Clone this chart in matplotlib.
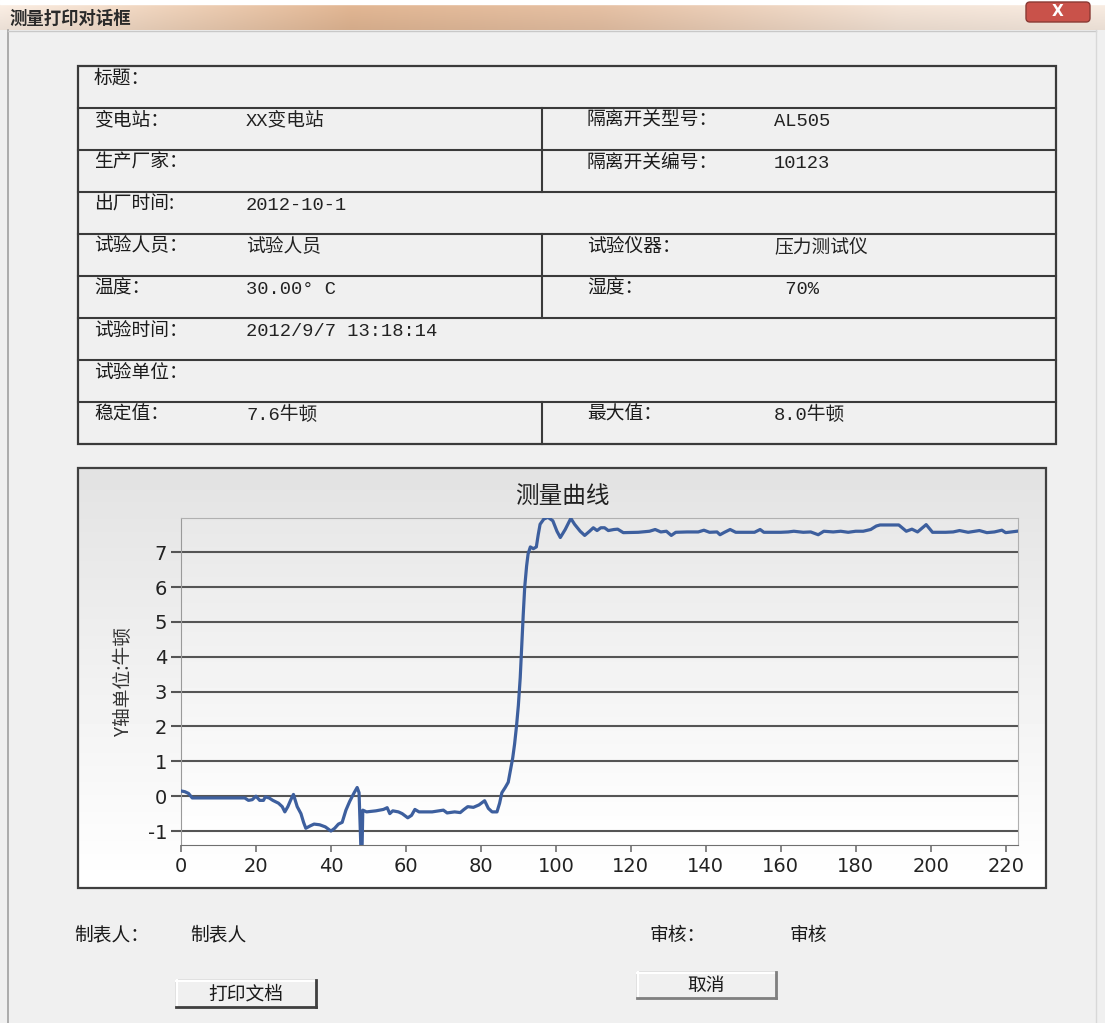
import numpy as np
import matplotlib.pyplot as plt
from matplotlib.patches import Rectangle, FancyBboxPatch

plt.rcParams['font.family'] = ['Noto Sans CJK SC', 'DejaVu Sans']
plt.rcParams['axes.unicode_minus'] = False

# data
curve_x = [0, 1, 2, 3, 5, 10, 15, 17, 18, 19, 20, 21, 22, 22.5, 23.5, 24.5, 26, 27,
           27.7, 28.5, 29.3, 30, 31, 32, 32.7, 33.3, 34.5, 35.5, 37, 38.5, 40, 41,
           42, 43, 44, 45, 46.2, 47, 47.5, 48, 48.3, 48.5, 49.5, 52, 54, 55, 55.7,
           56.5, 58, 59, 60.5, 61.5, 62.4, 63.5, 65, 67, 70, 71, 73, 74.5, 75.5,
           76.5, 78, 79.5, 81, 82, 83, 84.3, 85, 85.6, 86.5, 87.3, 88, 88.5, 89,
           89.5, 90, 90.5, 90.9, 91.3, 91.7, 92.2, 92.6, 93.2, 94, 94.8, 95.3,
           95.8, 96.8, 97.9, 99.2, 100.3, 101.2, 102.5, 104, 105, 106.5, 107.7,
           109, 110, 111, 112, 113, 114, 115.5, 116.5, 118, 122, 125, 126.5, 128,
           129.5, 130.8, 132, 135, 138, 139.5, 141, 143, 143.8, 145, 146.5, 148,
           153, 154.5, 155.5, 160, 162, 163.5, 166, 168, 170, 171.5, 174, 176,
           178, 180, 182, 184, 185.5, 186.5, 191.5, 193.5, 195, 196.5, 198.8,
           200.5, 204, 206, 207.7, 210, 213, 215, 217, 219, 220, 223]
curve_y = [0.15, 0.13, 0.08, -0.05, -0.05, -0.05, -0.05, -0.05, -0.12, -0.1, 0.0,
           -0.12, -0.12, -0.02, -0.05, -0.12, -0.2, -0.3, -0.45, -0.3, -0.1, 0.05,
           -0.3, -0.5, -0.75, -0.92, -0.85, -0.8, -0.82, -0.88, -1.0, -0.92, -0.8,
           -0.75, -0.4, -0.15, 0.1, 0.25, 0.1, -1.5, -1.5, -0.4, -0.45, -0.42,
           -0.38, -0.33, -0.5, -0.42, -0.45, -0.5, -0.62, -0.55, -0.38, -0.45,
           -0.45, -0.45, -0.4, -0.48, -0.45, -0.47, -0.38, -0.3, -0.32, -0.25,
           -0.13, -0.35, -0.45, -0.45, -0.2, 0.1, 0.25, 0.4, 0.8, 1.1, 1.5, 2.0,
           2.6, 3.4, 4.3, 5.2, 6.0, 6.6, 6.95, 7.15, 7.1, 7.15, 7.5, 7.8, 7.95,
           8.0, 7.9, 7.6, 7.42, 7.65, 7.97, 7.8, 7.6, 7.48, 7.6, 7.7, 7.62, 7.7,
           7.7, 7.62, 7.65, 7.66, 7.56, 7.57, 7.6, 7.65, 7.58, 7.6, 7.48, 7.57,
           7.58, 7.58, 7.63, 7.57, 7.58, 7.5, 7.57, 7.65, 7.57, 7.57, 7.65, 7.57,
           7.57, 7.58, 7.6, 7.57, 7.58, 7.5, 7.6, 7.58, 7.6, 7.57, 7.6, 7.6, 7.65,
           7.75, 7.78, 7.78, 7.6, 7.66, 7.58, 7.79, 7.57, 7.57, 7.58, 7.62, 7.57,
           7.62, 7.56, 7.58, 7.63, 7.56, 7.6]

x_ticks = [0, 20, 40, 60, 80, 100, 120, 140, 160, 180, 200, 220]
y_ticks = [-1, 0, 1, 2, 3, 4, 5, 6, 7]

# table content
left_labels = ["标题：", "变电站：", "生产厂家：", "出厂时间:", "试验人员：", "温度：",
               "试验时间：", "试验单位：", "稳定值："]
left_values = ["", "XX变电站", "", "2012-10-1", "试验人员", "30.00° C",
               "2012/9/7 13:18:14", "", "7.6牛顿"]
right_labels = [None, "隔离开关型号：", "隔离开关编号：", None, "试验仪器：", "湿度：",
                None, None, "最大值："]
right_values = [None, "AL505", "10123", None, "压力测试仪", " 70%", None, None, "8.0牛顿"]

W, H = 1105, 1023
fig = plt.figure(figsize=(W / 100, H / 100), dpi=100)
fig.patch.set_facecolor('#f0f0f0')

bg = fig.add_axes([0, 0, 1, 1])
bg.set_xlim(0, W)
bg.set_ylim(H, 0)
bg.axis('off')

mono = ['Liberation Mono', 'Noto Sans CJK SC']
fs = 13.5

# title bar
stops_x = [0, 150, 350, 600, 900, 1105]
stops_c = np.array([[242, 230, 220], [232, 206, 184], [218, 176, 142],
                    [222, 186, 158], [236, 220, 207], [240, 228, 218]]) / 255
cols = np.linspace(0, W, 300)
bar = np.stack([np.interp(cols, stops_x, stops_c[:, k]) for k in range(3)], axis=-1)
shade = np.linspace(1.04, 0.97, 30)[:, None, None]
bar_img = np.clip(bar[None, :, :] * shade, 0, 1)
bg.imshow(bar_img, extent=(0, W, 30, 4), aspect='auto', origin='upper', zorder=0)
bg.add_patch(Rectangle((0, 0), W, 4, color='white', zorder=1))
bg.text(10, 19, "测量打印对话框", fontsize=12.5, fontweight='bold', va='center',
        ha='left', color='#2a2a2a')
bg.add_patch(FancyBboxPatch((1026, 2), 64, 20, boxstyle="round,pad=0,rounding_size=4",
                            fc='#c9524a', ec='#8a3a34', lw=1, zorder=2))
bg.text(1058, 11, "X", fontsize=11, fontweight='bold', color='white',
        ha='center', va='center', family='DejaVu Sans', zorder=3)
bg.plot([8, 8], [30, 1023], color='#a0a0a0', lw=1.2)
bg.plot([8, 1096], [31, 31], color='#c8c8c8', lw=1)
bg.plot([1096, 1096], [30, 1023], color='#d8d8d8', lw=1)

# table grid
tab_l, tab_r, tab_t, row_h, mid = 78, 1056, 66, 42, 542
n_rows = len(left_labels)
line_c = '#3a3a3a'
bg.add_patch(Rectangle((tab_l, tab_t), tab_r - tab_l, row_h * n_rows,
                       fill=False, ec=line_c, lw=1.6))
for i in range(1, n_rows):
    yy = tab_t + i * row_h
    bg.plot([tab_l, tab_r], [yy, yy], color=line_c, lw=1.5)
for i in range(n_rows):
    top = tab_t + i * row_h
    if right_labels[i] is not None:
        bg.plot([mid, mid], [top, top + row_h], color=line_c, lw=1.5)
    bg.text(94, top + 12, left_labels[i], fontsize=fs, va='center', color='#1a1a1a')
    if left_values[i]:
        bg.text(246, top + 13, left_values[i], fontsize=fs, va='center', color='#222222',
                family=mono)
    if right_labels[i] is not None:
        bg.text(587, top + 12, right_labels[i], fontsize=fs, va='center', color='#1a1a1a')
        bg.text(774, top + 13, right_values[i], fontsize=fs, va='center', color='#222222',
                family=mono)

# chart panel with gradient
panel_grad = np.linspace(0.89, 1.0, 100)[:, None] * np.ones((100, 2))
bg.imshow(panel_grad, extent=(79, 1045, 887, 469), aspect='auto', origin='upper',
          cmap='gray', vmin=0, vmax=1, zorder=0)
bg.add_patch(Rectangle((78, 468), 968, 420, fill=False, ec='#404040', lw=1.6, zorder=2))
plot_grad = np.linspace(0.91, 1.0, 100)[:, None] * np.ones((100, 2))
bg.imshow(plot_grad, extent=(181, 1018, 845, 518), aspect='auto', origin='upper',
          cmap='gray', vmin=0, vmax=1, zorder=1)
bg.text(562, 496, "测量曲线", fontsize=17, ha='center', va='center', color='#222222')

# bottom labels and buttons
bg.text(74, 935, "制表人：", fontsize=fs, va='center', color='#1a1a1a')
bg.text(190, 935, "制表人", fontsize=fs, va='center', color='#1a1a1a')
bg.text(649, 935, "审核：", fontsize=fs, va='center', color='#1a1a1a')
bg.text(789, 935, "审核", fontsize=fs, va='center', color='#1a1a1a')


def button(x0, y0, w, h, label, strong):
    bg.add_patch(Rectangle((x0, y0), w, h, fc='#f0f0f0', ec='#a0a0a0', lw=1))
    bg.plot([x0, x0 + w], [y0 + 1, y0 + 1], color='white', lw=1.5)
    bg.plot([x0 + 1, x0 + 1], [y0, y0 + h], color='white', lw=1.5)
    dark = '#404040' if strong else '#808080'
    bg.plot([x0, x0 + w], [y0 + h, y0 + h], color=dark, lw=2)
    bg.plot([x0 + w, x0 + w], [y0, y0 + h], color=dark, lw=2)
    bg.text(x0 + w / 2, y0 + h / 2, label, fontsize=fs, ha='center', va='center',
            color='#1a1a1a')


button(176, 980, 140, 27, "打印文档", True)
button(637, 972, 139, 26, "取消", False)

bg.set_xlim(0, W)
bg.set_ylim(H, 0)

# measurement chart
ax = fig.add_axes([181 / W, 1 - 845 / H, (1018 - 181) / W, (845 - 518) / H])
ax.set_facecolor('none')
ax.plot(curve_x, curve_y, color='#3d5f9e', lw=2.3, zorder=3)
ax.set_xlim(0, 223.3)
ax.set_ylim(-1.4, 7.98)
ax.set_xticks(x_ticks)
ax.set_yticks(y_ticks)
for yv in y_ticks:
    ax.axhline(yv, color='#555555', lw=1.5, zorder=1)
for s in ['top', 'right']:
    ax.spines[s].set_color('#b0b0b0')
ax.spines['left'].set_color('#9a9a9a')
ax.spines['bottom'].set_color('#707070')
ax.tick_params(axis='y', length=7, width=1.5, color='#555555', labelsize=14,
               labelcolor='#222222', pad=3)
ax.tick_params(axis='x', length=5, width=1.2, color='#707070', labelsize=14,
               labelcolor='#222222', pad=4)
for lab in ax.get_xticklabels() + ax.get_yticklabels():
    lab.set_family('DejaVu Sans')
ax.set_ylabel("Y轴单位:牛顿", fontsize=13.5, color='#333333', labelpad=10)

fig.savefig("out.png", dpi=100, facecolor=fig.get_facecolor())
